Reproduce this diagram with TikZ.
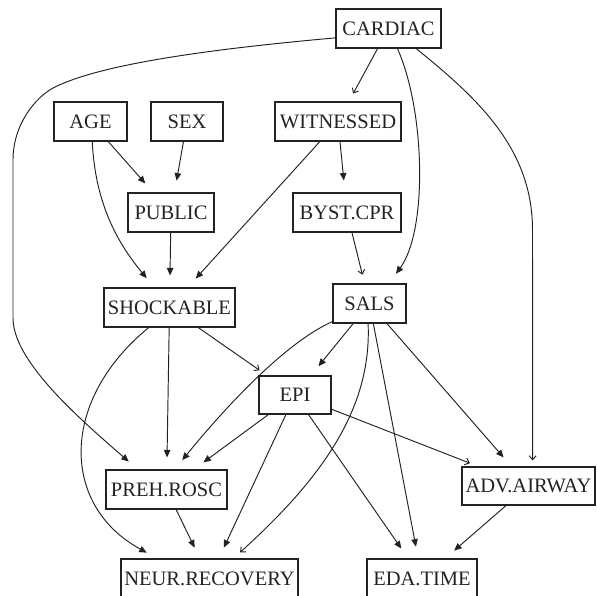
\documentclass[tikz,border=0pt]{standalone}
\usepackage{fontspec}
\setmainfont{Liberation Serif}
\usetikzlibrary{arrows.meta}
\definecolor{ink}{RGB}{34,34,34}
\begin{document}
\begin{tikzpicture}[x=1pt,y=-1pt,
  box/.style={draw=ink, line width=1.1pt, inner sep=0pt, minimum height=39pt,
    text=ink, font=\fontsize{20.5}{24}\selectfont},
  edge/.style={draw=ink, line width=0.95pt, shorten >=12pt,
    -{Triangle[length=7.5pt,width=6.5pt]}},
  oedge/.style={draw=ink, line width=0.95pt, shorten >=9pt,
    -{Straight Barb[length=4pt,width=7pt]}},
]
\useasboundingbox (0,0) rectangle (597,596);
% nodes
\node[box, minimum width=105pt] (CARDIAC) at (388.5,28.5) {CARDIAC};
\node[box, minimum width=73pt]  (AGE)  at (90.5,121.5) {AGE};
\node[box, minimum width=72pt]  (SEX)  at (187,121.5) {SEX};
\node[box, minimum width=126pt] (WIT)  at (338,121.5) {WITNESSED};
\node[box, minimum width=86pt]  (PUB)  at (171,212.5) {PUBLIC};
\node[box, minimum width=108pt] (BYST) at (347,212.5) {BYST.CPR};
\node[box, minimum width=131pt] (SHOCK) at (169.5,307.5) {SHOCKABLE};
\node[box, minimum width=73pt]  (SALS) at (369.5,303.5) {SALS};
\node[box, minimum width=72pt, minimum height=38pt] (EPI) at (295,395) {EPI};
\node[box, minimum width=121pt] (PREH) at (166.5,489.5) {PREH.ROSC};
\node[box, minimum width=133pt, minimum height=38pt] (ADV) at (528.5,486) {ADV.AIRWAY};
\node[box, minimum width=177pt] (NEUR) at (209.5,578.5) {NEUR.RECOVERY};
\node[box, minimum width=110pt] (EDA)  at (422,578.5) {EDA.TIME};
% straight connectors
\draw[oedge] (CARDIAC) -- (WIT);
\draw[edge] (AGE) -- (PUB);
\draw[edge] (SEX) -- (PUB);
\draw[edge] (WIT) -- (SHOCK);
\draw[edge] (WIT) -- (BYST);
\draw[edge] (PUB) -- (SHOCK);
\draw[oedge] (BYST) -- (SALS);
\draw[edge] (SHOCK) -- (PREH);
\draw[oedge] (SHOCK) -- (EPI);
\draw[edge] (SALS) -- (EPI);
\draw[edge] (SALS) -- (ADV);
\draw[edge] (SALS) -- (EDA);
\draw[edge] (EPI) -- (PREH);
\draw[edge] (EPI) -- (NEUR);
\draw[edge] (EPI) -- (EDA);
\draw[oedge] (EPI) -- (ADV);
\draw[edge] (PREH) -- (NEUR);
\draw[edge] (ADV) -- (EDA);
% curved connectors
\draw[edge] (AGE.275) .. controls (95,200) and (115,240) .. (SHOCK.127);
\draw[edge] (CARDIAC.294) .. controls (425,110) and (428,230) .. (SALS.46);
\draw[oedge, shorten >=6pt] (CARDIAC.324) .. controls (480,100) and (532.5,150) .. (532.5,230) -- (ADV.78);
\draw[edge] (CARDIAC.190) .. controls (200,50) and (100,65) .. (55,87)
  .. controls (35,97) and (13,125) .. (13,160) -- (13,318)
  .. controls (13,360) and (75,415) .. (PREH.145);
\draw[edge] (SHOCK.224) .. controls (60,400) and (60,505) .. (NEUR.159);
\draw[edge] (SALS.206) .. controls (280,345) and (215,420) .. (PREH.68);
\draw[oedge] (SALS.266) .. controls (372,410) and (320,480) .. (NEUR.40);
\end{tikzpicture}
\end{document}
